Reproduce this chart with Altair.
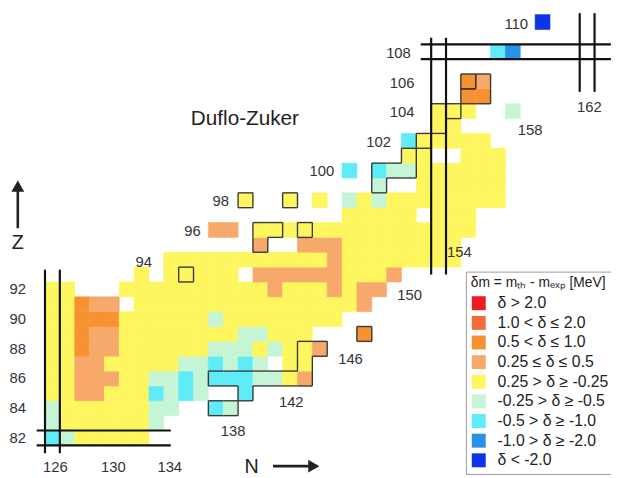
import altair as alt
import pandas as pd

# ---------------- data ----------------
CATS = ["δ > 2.0", "1.0 < δ ≤ 2.0", "0.5 < δ ≤ 1.0", "0.25 ≤ δ ≤ 0.5",
        "0.25 > δ ≥ -0.25", "-0.25 > δ ≥ -0.5", "-0.5 > δ ≥ -1.0",
        "-1.0 > δ ≥ -2.0", "δ < -2.0"]
CODES = ["X", "R", "O", "L", "Y", "G", "C", "B", "D"]
COLORS = ["#ED1C24", "#F26B3A", "#F6922F", "#F7A86B", "#FDF65E",
          "#C6F5D5", "#5FEBF7", "#2A90EA", "#0B35E6"]

N_FIRST = 126  # first character of every row string is N = 126
ROWS = {
    82: "CGYYYYY",
    83: "GYYYYYYG",
    84: "GYYYYYYGG..CG",
    85: "YYLLYYYCGCG..C",
    86: "YYLLLYYGGCGCCCGGYL",
    87: "YYLLYYYYYGGCGCG.YY",
    88: "YYOLLYYYYYYGGGYGYYL",
    89: "YYOLLYYYYYYYYGGYYY...O",
    90: "YYOOOYYYYYYGYYYYYYYY",
    91: "YYOLL.YYYYYYYYYYYYYYYL",
    92: "YY...YYYYYYYYYYLYYYLYLL",
    93: "......Y.YYYYY.LLLLLLYYYL",
    94: "........YYYYYYYYYYYLYYYYYYYY",
    95: "..............L..LLLYYYYYYYY",
    96: "...........LL.YYYYYYYYYYYYYYY",
    97: "....................YYYYY.YYY",
    98: ".............Y..Y.Y.GYGYYYYYYYY",
    99: "......................G..YYYYYY",
    100: "....................C.CGGYYYYYY",
    101: "........................YY..YYY",
    102: "........................CYYYYY",
    103: "..........................YY",
    104: "..........................YYY..G",
    105: "............................OO",
    106: "............................OL",
    108: "..............................CB",
    110: ".................................D",
}

# nuclides drawn with a dark outline (each inner list is one outlined group)
OUTLINED = [
    [(135, 93)],
    [(139, 98)],
    [(142, 98)],
    [(140, 96), (141, 96), (140, 95)],
    [(143, 96)],
    [(137, 86), (138, 86), (139, 86), (140, 86), (141, 86), (142, 86), (143, 86),
     (139, 85), (143, 87), (143, 88), (144, 88)],
    [(137, 84), (138, 84)],
    [(147, 89)],
    [(148, 99), (148, 100), (149, 100), (150, 100), (150, 101), (151, 102),
     (152, 103), (152, 104), (153, 104)],
    [(154, 106)],
    [(155, 106), (154, 105), (155, 105)],
]

# magic-number line pairs: (kind, centre, from, to)
MAGIC_KIND = ["N", "Z", "N", "Z", "N"]
MAGIC_AT = [126, 82, 152, 108, 162]
MAGIC_FROM = [80.97, 124.94, 93.0, 150.8, 105.3]
MAGIC_TO = [93.33, 133.97, 108.94, 163.6, 110.6]

LBL_TEXT = ["82", "84", "86", "88", "90", "92", "126", "130", "134",
            "94", "96", "98", "100", "102", "104", "106", "108", "110",
            "138", "142", "146", "150", "154", "158", "162"]
LBL_N = [123.67] * 6 + [126.2, 130.1, 133.9,
                        132.15, 135.43, 137.33, 144.14, 147.96, 149.55, 149.55, 149.3, 157.23,
                        138.16, 142.08, 146.07, 150.05, 153.4, 158.16, 162.15]
LBL_Z = [82, 84, 86, 88, 90, 92, 80.04, 80.04, 80.04,
         93.86, 95.95, 97.95, 99.94, 101.9, 103.93, 105.92, 107.88, 109.87,
         82.43, 84.43, 87.28, 91.6, 94.5, 102.76, 104.29]

TITLE_TEXT = ["Duflo-Zuker"]
TITLE_N = [138.96]
TITLE_Z = [103.49]

AXIS_TEXT = ["N", "Z"]
AXIS_N = [139.42, 123.67]
AXIS_Z = [80.04, 95.12]

# ---------------- geometry ----------------
K = 15.05                 # pixels per nucleon
W, H = 611, 470
N0 = 126 - 45 / K
Z1 = 82 + 432.5 / K
xs = alt.Scale(domain=[N0, N0 + W / K], nice=False, zero=False)
ys = alt.Scale(domain=[Z1 - H / K, Z1], nice=False, zero=False)

cells = []
for z, s in ROWS.items():
    for i, ch in enumerate(s):
        if ch != ".":
            n = N_FIRST + i
            cells.append(dict(x=n - 0.5, x2=n + 0.5, y=z - 0.5, y2=z + 0.5,
                              cat=CATS[CODES.index(ch)]))
cell_df = pd.DataFrame(cells)

segs = []
for grp in OUTLINED:
    s = set(grp)
    for (n, z) in grp:
        if (n, z + 1) not in s:
            segs.append(dict(x=n - 0.5, x2=n + 0.5, y=z + 0.5, y2=z + 0.5))
        if (n, z - 1) not in s:
            segs.append(dict(x=n - 0.5, x2=n + 0.5, y=z - 0.5, y2=z - 0.5))
        if (n - 1, z) not in s:
            segs.append(dict(x=n - 0.5, x2=n - 0.5, y=z - 0.5, y2=z + 0.5))
        if (n + 1, z) not in s:
            segs.append(dict(x=n + 0.5, x2=n + 0.5, y=z - 0.5, y2=z + 0.5))
seg_df = pd.DataFrame(segs)

mag = []
for kind, c, a, b in zip(MAGIC_KIND, MAGIC_AT, MAGIC_FROM, MAGIC_TO):
    for off in (-0.5, 0.5):
        if kind == "N":
            mag.append(dict(x=c + off, x2=c + off, y=a, y2=b))
        else:
            mag.append(dict(x=a, x2=b, y=c + off, y2=c + off))
mag_df = pd.DataFrame(mag)

lbl_df = pd.DataFrame(dict(t=LBL_TEXT, x=LBL_N, y=LBL_Z))
ttl_df = pd.DataFrame(dict(t=TITLE_TEXT, x=TITLE_N, y=TITLE_Z))
ax_df = pd.DataFrame(dict(t=AXIS_TEXT, x=AXIS_N, y=AXIS_Z))

# arrows (N to the right, Z upward)
arr_line_df = pd.DataFrame(dict(x=[140.85, 123.67], x2=[143.5, 123.67],
                                y=[80.1, 96.12], y2=[80.1, 98.9]))
arr_head_df = pd.DataFrame(dict(x=[143.6], y=[80.1]))
arr_head_up_df = pd.DataFrame(dict(x=[123.67], y=[98.95]))

X = lambda f: alt.X(f, type="quantitative", scale=xs, axis=None)
Y = lambda f: alt.Y(f, type="quantitative", scale=ys, axis=None)

color_scale = alt.Scale(domain=CATS, range=COLORS)
legend = alt.Legend(
    orient="none", legendX=464, legendY=264, direction="vertical",
    title="δm = mₜₕ - mₑₓₚ [MeV]", titleFont="Liberation Sans", titleFontSize=14,
    titleFontWeight="normal", titleColor="#222", titlePadding=5,
    labelFont="Liberation Sans", labelFontSize=16, labelColor="#222",
    labelOffset=11, labelLimit=250,
    symbolType="square", symbolSize=200, symbolStrokeWidth=0, symbolOpacity=1,
    rowPadding=3.9, padding=5, strokeColor="#9a9a9a", fillColor="white",
)

layer_cells = alt.Chart(cell_df).mark_rect(strokeWidth=0.6).encode(
    x=X("x"), x2="x2", y=Y("y"), y2="y2",
    color=alt.Color("cat:N", scale=color_scale, legend=legend),
    stroke=alt.Stroke("cat:N", scale=color_scale, legend=None),
)
layer_out = alt.Chart(seg_df).mark_rule(color="#3a3a3a", strokeWidth=1.4).encode(
    x=X("x"), x2="x2", y=Y("y"), y2="y2")
layer_mag = alt.Chart(mag_df).mark_rule(color="#111", strokeWidth=2.2).encode(
    x=X("x"), x2="x2", y=Y("y"), y2="y2")
layer_lbl = alt.Chart(lbl_df).mark_text(font="Liberation Sans", fontSize=15, color="#333").encode(
    x=X("x"), y=Y("y"), text="t:N")
layer_ttl = alt.Chart(ttl_df).mark_text(font="Liberation Sans", fontSize=21, color="#222").encode(
    x=X("x"), y=Y("y"), text="t:N")
layer_ax = alt.Chart(ax_df).mark_text(font="Liberation Sans", fontSize=20, color="#222").encode(
    x=X("x"), y=Y("y"), text="t:N")
layer_arr = alt.Chart(arr_line_df).mark_rule(color="#222", strokeWidth=2.6).encode(
    x=X("x"), x2="x2", y=Y("y"), y2="y2")
layer_head = alt.Chart(arr_head_df).mark_point(shape="triangle-right", filled=True, size=170,
                                               color="#222", opacity=1).encode(x=X("x"), y=Y("y"))
layer_head_up = alt.Chart(arr_head_up_df).mark_point(shape="triangle-up", filled=True, size=170,
                                                     color="#222", opacity=1).encode(x=X("x"), y=Y("y"))

chart = alt.layer(layer_cells, layer_out, layer_mag, layer_lbl, layer_ttl, layer_ax,
                  layer_arr, layer_head, layer_head_up).properties(
    width=W, height=H, padding=0, autosize=alt.AutoSizeParams(type="none")
).configure_view(stroke=None)

chart.save("out.html", embed_options={"renderer": "svg", "actions": False})
